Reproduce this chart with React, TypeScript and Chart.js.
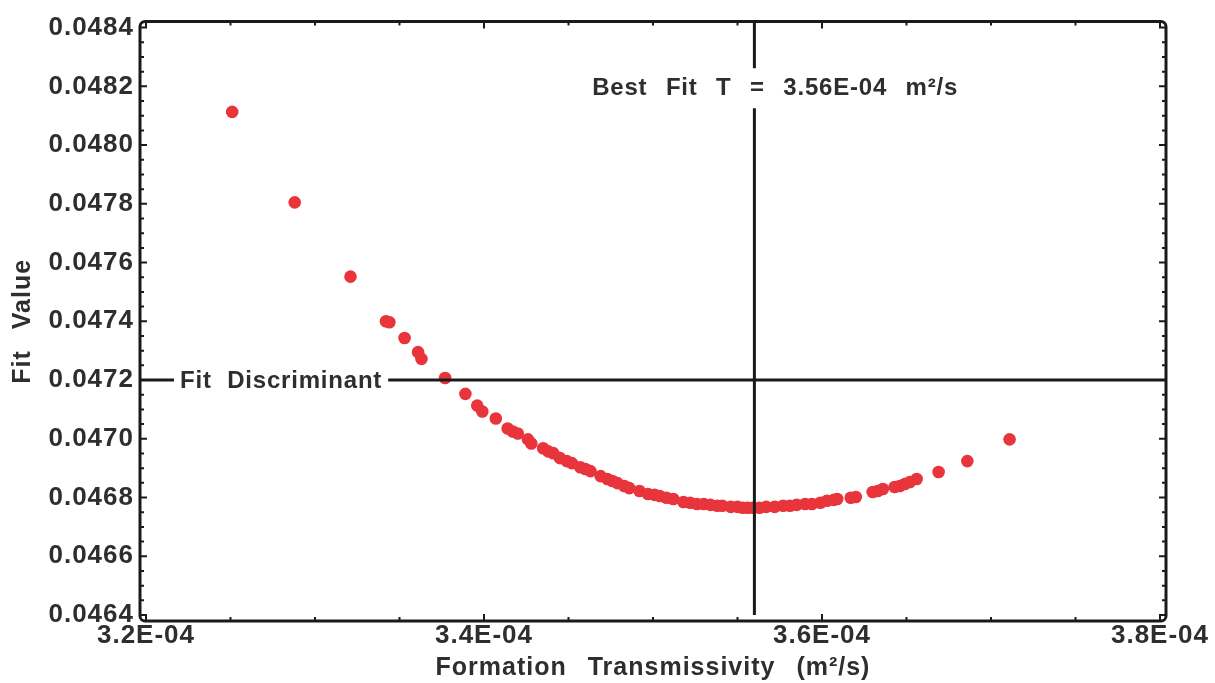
import React, { useEffect, useRef } from "react";
import { Chart, registerables } from "chart.js";

Chart.register(...registerables);

// Formation transmissivity (m²/s) of each fit
const transmissivity = [
  3.251e-4, 3.288e-4, 3.321e-4, 3.342e-4, 3.344e-4, 3.353e-4, 3.361e-4, 3.363e-4,
  3.377e-4, 3.389e-4, 3.396e-4, 3.399e-4, 3.407e-4, 3.414e-4, 3.417e-4, 3.42e-4,
  3.426e-4, 3.428e-4, 3.435e-4, 3.438e-4, 3.441e-4, 3.445e-4, 3.449e-4, 3.452e-4,
  3.457e-4, 3.46e-4, 3.463e-4, 3.469e-4, 3.473e-4, 3.476e-4, 3.479e-4, 3.483e-4,
  3.486e-4, 3.492e-4, 3.497e-4, 3.501e-4, 3.504e-4, 3.508e-4, 3.512e-4, 3.518e-4,
  3.522e-4, 3.526e-4, 3.53e-4, 3.534e-4, 3.538e-4, 3.541e-4, 3.546e-4, 3.55e-4,
  3.553e-4, 3.556e-4, 3.559e-4, 3.563e-4, 3.567e-4, 3.572e-4, 3.577e-4, 3.581e-4,
  3.585e-4, 3.59e-4, 3.594e-4, 3.599e-4, 3.603e-4, 3.607e-4, 3.609e-4, 3.617e-4,
  3.62e-4, 3.63e-4, 3.633e-4, 3.636e-4, 3.643e-4, 3.646e-4, 3.649e-4, 3.652e-4,
  3.656e-4, 3.669e-4, 3.686e-4, 3.711e-4,
];

// Fit value of each fit
const fitValue = [
  0.048113, 0.047805, 0.047552, 0.0474, 0.047397, 0.047343, 0.047295, 0.047272,
  0.047207, 0.047153, 0.047113, 0.047093, 0.047069, 0.047035, 0.047025, 0.047018,
  0.046998, 0.046984, 0.046968, 0.046957, 0.046951, 0.046934, 0.046924, 0.046917,
  0.046903, 0.046897, 0.04689, 0.046873, 0.046863, 0.046856, 0.046849, 0.046839,
  0.046832, 0.046822, 0.046812, 0.046809, 0.046805, 0.046799, 0.046795, 0.046785,
  0.046782, 0.046778, 0.046778, 0.046775, 0.046772, 0.046772, 0.046768, 0.046768,
  0.046765, 0.046765, 0.046765, 0.046765, 0.046768, 0.046768, 0.046772, 0.046772,
  0.046775, 0.046778, 0.046778, 0.046782, 0.046789, 0.046792, 0.046795, 0.046799,
  0.046802, 0.046819, 0.046822, 0.046829, 0.046836, 0.046839, 0.046846, 0.046853,
  0.046863, 0.046887, 0.046924, 0.046998,
];

const xTickValues = [3.2e-4, 3.4e-4, 3.6e-4, 3.8e-4];
const xTickLabels = ["3.2E-04", "3.4E-04", "3.6E-04", "3.8E-04"];
const yTickValues = [
  0.0464, 0.0466, 0.0468, 0.047, 0.0472, 0.0474, 0.0476, 0.0478, 0.048, 0.0482, 0.0484,
];
const yTickLabels = [
  "0.0464", "0.0466", "0.0468", "0.0470", "0.0472", "0.0474",
  "0.0476", "0.0478", "0.0480", "0.0482", "0.0484",
];
const xMinorCount = 3;
const yMinorCount = 3;

const bestFitT = 3.56e-4;
const bestFitLabelAt = 0.0482;
const fitDiscriminant = 0.0472;
const bestFitPrefix = "Best Fit T ";
const bestFitEq = "=";
const bestFitSuffix = " 3.56E-04 m²/s";
const discriminantLabel = "Fit Discriminant";
const xTitle = "Formation Transmissivity (m²/s)";
const yTitle = "Fit Value";

const FONT = "'Liberation Sans', Arial, Helvetica, sans-serif";
const TEXT = "#2e2e2e";
const INK = "#1a1a1a";
const DOT = "#e8343b";

const spacingPlugin = {
  id: "spacing",
  beforeDraw(chart: any) {
    const c = chart.ctx as any;
    c.letterSpacing = "1px";
    c.wordSpacing = "13px";
  },
};

const framePlugin = {
  id: "frame",
  afterDatasetsDraw(chart: any) {
    const { ctx, chartArea: a, scales } = chart;
    const xs = scales.x;
    const ys = scales.y;
    const pad = 6;
    const L = a.left - pad;
    const R = a.right + pad;
    const T = a.top - pad;
    const B = a.bottom + pad;
    ctx.save();
    ctx.strokeStyle = INK;
    ctx.lineCap = "butt";

    // frame
    ctx.lineWidth = 3;
    ctx.beginPath();
    (ctx as any).roundRect(L, T, R - L, B - T, 5);
    ctx.stroke();

    // ticks
    const major = 7, minor = 4;
    ctx.lineWidth = 2;
    ctx.beginPath();
    for (let i = 0; i < xTickValues.length; i++) {
      const px = xs.getPixelForValue(xTickValues[i]);
      ctx.moveTo(px, B); ctx.lineTo(px, B - major);
      ctx.moveTo(px, T); ctx.lineTo(px, T + major);
      if (i < xTickValues.length - 1) {
        const step = (xTickValues[i + 1] - xTickValues[i]) / (xMinorCount + 1);
        for (let k = 1; k <= xMinorCount; k++) {
          const mx = xs.getPixelForValue(xTickValues[i] + step * k);
          ctx.moveTo(mx, B); ctx.lineTo(mx, B - minor);
          ctx.moveTo(mx, T); ctx.lineTo(mx, T + minor);
        }
      }
    }
    for (let i = 0; i < yTickValues.length; i++) {
      const py = ys.getPixelForValue(yTickValues[i]);
      ctx.moveTo(L, py); ctx.lineTo(L + major, py);
      ctx.moveTo(R, py); ctx.lineTo(R - major, py);
      if (i < yTickValues.length - 1) {
        const step = (yTickValues[i + 1] - yTickValues[i]) / (yMinorCount + 1);
        for (let k = 1; k <= yMinorCount; k++) {
          const my = ys.getPixelForValue(yTickValues[i] + step * k);
          ctx.moveTo(L, my); ctx.lineTo(L + minor, my);
          ctx.moveTo(R, my); ctx.lineTo(R - minor, my);
        }
      }
    }
    ctx.stroke();

    // annotation text setup
    ctx.fillStyle = TEXT;
    ctx.textBaseline = "middle";
    ctx.textAlign = "left";

    // Fit discriminant line and label
    const hy = ys.getPixelForValue(fitDiscriminant);
    ctx.font = `bold 24px ${FONT}`;
    (ctx as any).letterSpacing = "0.8px";
    (ctx as any).wordSpacing = "8px";
    const dlx = a.left + 34;
    const dw = ctx.measureText(discriminantLabel).width;
    ctx.lineWidth = 3;
    ctx.beginPath();
    ctx.moveTo(L, hy); ctx.lineTo(dlx - 6, hy);
    ctx.moveTo(dlx + dw + 6, hy); ctx.lineTo(R, hy);
    ctx.stroke();
    ctx.fillText(discriminantLabel, dlx, hy + 1);

    // Best fit line and label
    const vx = xs.getPixelForValue(bestFitT);
    const ly = ys.getPixelForValue(bestFitLabelAt) + 2;
    ctx.font = `bold 24px ${FONT}`;
    (ctx as any).letterSpacing = "0.8px";
    (ctx as any).wordSpacing = "11px";
    const pw = ctx.measureText(bestFitPrefix).width;
    const ew = ctx.measureText(bestFitEq).width;
    const sx = vx - pw - ew / 2 + 3;
    ctx.beginPath();
    ctx.moveTo(vx, T); ctx.lineTo(vx, ly - 20);
    ctx.moveTo(vx, ly + 20); ctx.lineTo(vx, a.bottom);
    ctx.stroke();
    ctx.fillText(bestFitPrefix + bestFitEq + bestFitSuffix, sx, ly);

    ctx.restore();
  },
};

export default function App() {
  const ref = useRef<HTMLCanvasElement | null>(null);

  useEffect(() => {
    const canvas = ref.current;
    if (!canvas) return;
    const points = transmissivity.map((x, i) => ({ x, y: fitValue[i] }));
    const chart = new Chart(canvas, {
      type: "scatter",
      data: {
        datasets: [
          {
            label: "Fit",
            data: points,
            backgroundColor: DOT,
            borderColor: DOT,
            borderWidth: 0,
            pointRadius: 6.3,
            pointHoverRadius: 6.3,
          },
        ],
      },
      options: {
        animation: false,
        responsive: false,
        devicePixelRatio: 1,
        layout: { padding: { left: 0, right: 55, top: 23, bottom: 0 } },
        plugins: {
          legend: { display: false },
          tooltip: { enabled: false },
        },
        scales: {
          x: {
            type: "linear",
            min: 3.2e-4,
            max: 3.8e-4,
            grid: { display: false, drawTicks: false },
            border: { display: false },
            afterBuildTicks: (s: any) => {
              s.ticks = xTickValues.map((v) => ({ value: v }));
            },
            afterFit: (s: any) => {
              s.height = 68;
            },
            ticks: {
              color: TEXT,
              padding: 5,
              maxRotation: 0,
              autoSkip: false,
              font: { family: FONT, size: 26, weight: "bold", lineHeight: 1.2 },
              callback: (_v: any, i: number) => xTickLabels[i],
            },
            title: {
              display: true,
              text: xTitle,
              color: TEXT,
              font: { family: FONT, size: 25, weight: "bold", lineHeight: 1 },
              padding: { top: 0, bottom: 2 },
            },
          },
          y: {
            type: "linear",
            min: 0.0464,
            max: 0.0484,
            grid: { display: false, drawTicks: false },
            border: { display: false },
            afterBuildTicks: (s: any) => {
              s.ticks = yTickValues.map((v) => ({ value: v }));
            },
            afterFit: (s: any) => {
              s.width = 146;
            },
            ticks: {
              color: TEXT,
              padding: 12,
              autoSkip: false,
              font: { family: FONT, size: 26, weight: "bold", lineHeight: 1.2 },
              callback: (_v: any, i: number) => yTickLabels[i],
            },
            title: {
              display: true,
              text: yTitle,
              color: TEXT,
              font: { family: FONT, size: 25, weight: "bold", lineHeight: 1 },
              padding: { top: 11, bottom: 0 },
            },
          },
        },
      },
      plugins: [spacingPlugin, framePlugin],
    });
    return () => chart.destroy();
  }, []);

  return (
    <div style={{ position: "fixed", left: 0, top: 0, width: 1215, height: 683, background: "#fff" }}>
      <canvas ref={ref} width={1215} height={683} style={{ display: "block" }} />
    </div>
  );
}
